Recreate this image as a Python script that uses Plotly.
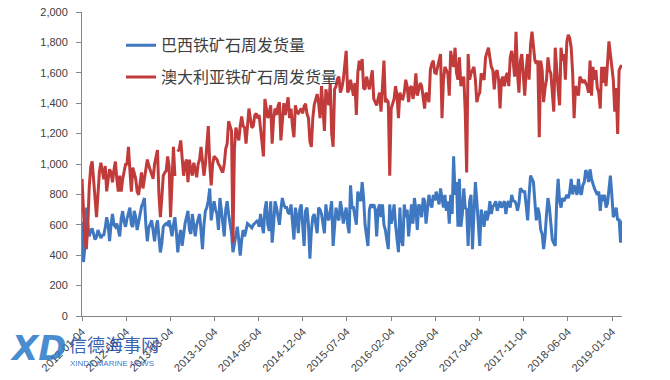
import pandas as pd
import plotly.graph_objects as go

start_date = "2012-01-04"

brazil = [
    620, 355, 450, 713, 600, 524, 560, 576, 540, 503,
    520, 566, 540, 513, 530, 534, 580, 650, 600, 492,
    600, 671, 600, 587, 608, 560, 524, 640, 690, 620,
    587, 640, 671, 713, 600, 587, 692, 650, 566, 620,
    692, 720, 745, 776, 600, 492, 580, 600, 629, 560,
    492, 580, 629, 520, 418, 480, 587, 600, 608, 600,
    629, 580, 524, 600, 650, 550, 418, 520, 566, 461,
    540, 608, 650, 692, 566, 540, 671, 600, 524, 600,
    629, 671, 560, 440, 600, 692, 713, 760, 839, 629,
    700, 755, 700, 671, 566, 776, 700, 620, 524, 700,
    755, 671, 600, 545, 420, 470, 524, 587, 500, 398,
    500, 566, 524, 560, 608, 600, 587, 580, 600, 608,
    620, 629, 587, 671, 600, 545, 700, 755, 600, 560,
    755, 482, 600, 755, 713, 650, 600, 700, 776, 734,
    713, 713, 680, 671, 734, 620, 503, 713, 650, 545,
    700, 734, 550, 461, 692, 713, 600, 377, 560, 650,
    671, 600, 545, 713, 700, 671, 600, 545, 734, 650,
    629, 700, 755, 461, 600, 713, 650, 629, 755, 700,
    608, 650, 713, 600, 545, 860, 713, 713, 650, 600,
    818, 776, 755, 881, 776, 600, 520, 461, 700, 734,
    713, 734, 700, 524, 700, 734, 650, 734, 600, 566,
    500, 440, 734, 608, 650, 734, 600, 524, 420, 713,
    500, 461, 734, 650, 700, 524, 650, 734, 608, 776,
    700, 566, 734, 713, 650, 776, 760, 608, 700, 797,
    740, 713, 797, 760, 818, 780, 734, 839, 755, 713,
    797, 692, 755, 608, 797, 671, 1050, 797, 881, 587,
    902, 587, 671, 839, 713, 700, 461, 755, 797, 440,
    671, 881, 755, 600, 461, 700, 629, 587, 692, 629,
    670, 755, 671, 720, 730, 755, 692, 720, 755, 713,
    740, 755, 671, 740, 755, 713, 797, 760, 755, 740,
    692, 740, 839, 829, 818, 818, 700, 629, 797, 923,
    902, 881, 750, 629, 713, 671, 568, 540, 440, 524,
    671, 776, 713, 587, 503, 480, 461, 755, 902, 755,
    713, 776, 755, 776, 797, 776, 818, 902, 800, 860,
    839, 797, 902, 818, 797, 860, 881, 960, 940, 881,
    965, 902, 860, 839, 818, 797, 818, 692, 797, 755,
    797, 713, 740, 818, 923, 797, 650, 671, 713, 629,
    640, 482, 629,
]

australia = [
    902, 700, 500, 440, 600, 850, 980, 1018, 900, 820,
    650, 800, 950, 1008, 960, 900, 987, 820, 900, 965,
    944, 880, 960, 1016, 900, 818, 923, 818, 900, 965,
    997, 1000, 1113, 960, 818, 976, 930, 902, 820, 797,
    870, 944, 839, 900, 980, 1029, 990, 965, 940, 902,
    1000, 1060, 1092, 800, 650, 780, 923, 944, 955, 1050,
    985, 650, 944, 1113, 921, None, 1081, 1100, 1155, 1050,
    923, 1000, 1029, 881, 1029, 960, 923, 1008, 960, 913,
    1000, 1029, 1113, 1000, 923, 1000, 1100, 1249, 1000, 860,
    1000, 1050, 1040, 1029, 1000, 986, 960, 944, 1000, 1100,
    1134, 1281, 1250, 1218, 482, 1100, 1239, 1200, 1155, 1250,
    1312, 1250, 1239, 1134, 1250, 1365, 1300, 1239, 1250, 1320,
    1333, 1300, 1323, 1218, 1150, 1050, 1428, 1360, 1302, 1340,
    1386, 1134, 1300, 1365, 1323, 1380, 1407, 1155, 1300, 1400,
    1323, 1380, 1439, 1302, 1365, 1250, 1176, 1386, 1340, 1333,
    1350, 1365, 1333, 1380, 1397, 1330, 1302, 1150, 1113, 1302,
    1390, 1428, 1460, 1400, 1302, 1512, 1350, 1218, 1491, 1430,
    1386, 1533, 1200, 1113, 1491, 1512, 1560, 1575, 1470, 1500,
    1554, 1650, 1744, 1470, 1491, 1554, 1491, 1449, 1533, 1323,
    1600, 1680, 1617, 1691, 1500, 1491, 1575, 1530, 1491, 1560,
    1617, 1428, 1400, 1386, 1430, 1470, 1344, 1550, 1680, 1407,
    1420, 1407, 923, 1365, 1400, 1428, 1512, 1450, 1302, 1470,
    1430, 1428, 1470, 1554, 1512, 1407, 1500, 1512, 1428, 1480,
    1596, 1449, 1491, 1533, 1512, 1450, 1365, 1470, 1450, 1407,
    1620, 1660, 1680, 1600, 1596, 1640, 1680, 1723, 1302, 1550,
    1639, 1620, 1596, 1449, 1744, 1680, 1639, 1765, 1600, 1554,
    1702, 1512, 1540, 1575, 1344, 944, 1723, 1554, 1596, 1620,
    1639, 1554, 1407, 1449, 1470, 1596, 1575, 1554, 1702, 1744,
    1765, 1700, 1639, 1617, 1491, 1600, 1617, 1554, 1365, 1554,
    1575, 1512, 1575, 1600, 1512, 1700, 1744, 1680, 1575, 1870,
    1600, 1470, 1680, 1723, 1600, 1449, 1617, 1723, 1554, 1786,
    1870, 1786, 1680, 1660, 1680, 1176, 1680, 1617, 1407, 1500,
    1554, 1702, 1620, 1596, 1491, 1344, 1765, 1596, 1491, 1386,
    1765, 1680, 1723, 1554, 1807, 1849, 1828, 1765, 1600, 1302,
    1512, 1491, 1449, 1575, 1554, 1533, 1554, 1533, 1512, 1470,
    1680, 1449, 1639, 1554, 1617, 1500, 1470, 1365, 1639, 1533,
    1639, 1512, 1700, 1807, 1723, 1639, 1554, 1344, 1500, 1197,
    1617, 1639, 1650,
]

tick_dates = [
    "2012-01-04", "2012-08-04", "2013-03-04", "2013-10-04", "2014-05-04",
    "2014-12-04", "2015-07-04", "2016-02-04", "2016-09-04", "2017-04-04",
    "2017-11-04", "2018-06-04", "2019-01-04",
]
y_ticks = list(range(0, 2001, 200))

series_names = ["巴西铁矿石周发货量", "澳大利亚铁矿石周发货量"]
series_colors = ["#3F78C0", "#C23B3B"]

dates = pd.date_range(start_date, periods=len(brazil), freq="7D")

fig = go.Figure()
for i, (name, vals, col) in enumerate(zip(series_names, [brazil, australia], series_colors)):
    fig.add_trace(go.Scatter(
        x=dates, y=vals, mode="lines", name=name,
        line=dict(color=col, width=3), connectgaps=False,
        legendgroup=f"g{i}",
    ))

cjk = "Noto Sans CJK SC"
fig.update_layout(
    width=670, height=380,
    margin=dict(l=82, r=48, t=6, b=57),
    paper_bgcolor="white", plot_bgcolor="white",
    font=dict(family="Liberation Sans, Arial", color="#404040"),
    legend=dict(
        x=(121 - 82) / 540, y=(323 - 23) / 317, xanchor="left", yanchor="top",
        font=dict(family=cjk, size=16, color="#404040"),
        bgcolor="rgba(0,0,0,0)", tracegroupgap=8, itemwidth=30,
    ),
    xaxis=dict(
        type="date",
        range=[dates[0], dates[-1]],
        tickvals=tick_dates, ticktext=tick_dates,
        tickangle=-45, ticks="outside", ticklen=4, tickcolor="#868686",
        showline=True, linecolor="#868686", linewidth=1,
        showgrid=False, zeroline=False,
        tickfont=dict(size=11, color="#404040"),
    ),
    yaxis=dict(
        range=[0, 2000], tickvals=y_ticks, tickformat=",",
        ticks="outside", ticklen=5, tickcolor="#868686",
        showline=True, linecolor="#868686", linewidth=1,
        showgrid=False, zeroline=False,
        tickfont=dict(size=11, color="#404040"),
        ticklabelstandoff=6, ticklabeloverflow="allow",
    ),
)

def px_x(p):
    return (p - 82) / 540

def px_y(p):
    return (323 - p) / 317

fig.add_annotation(text="<b><i>XD</i></b>", x=px_x(8), y=px_y(356), xref="paper", yref="paper",
                   xanchor="left", yanchor="middle", showarrow=False,
                   font=dict(family="DejaVu Sans", size=34, color="rgba(40,120,200,0.85)"))
fig.add_annotation(text="信德海事网", x=px_x(67), y=px_y(352), xref="paper", yref="paper",
                   xanchor="left", yanchor="middle", showarrow=False,
                   font=dict(family=cjk, size=18, color="rgba(30,80,170,0.9)"))
fig.add_annotation(text="XINDE MARINE NEWS", x=px_x(68), y=px_y(373), xref="paper", yref="paper",
                   xanchor="left", yanchor="middle", showarrow=False,
                   font=dict(family="Liberation Sans", size=8, color="rgba(40,100,190,0.9)"))

fig.write_html("out.html")
